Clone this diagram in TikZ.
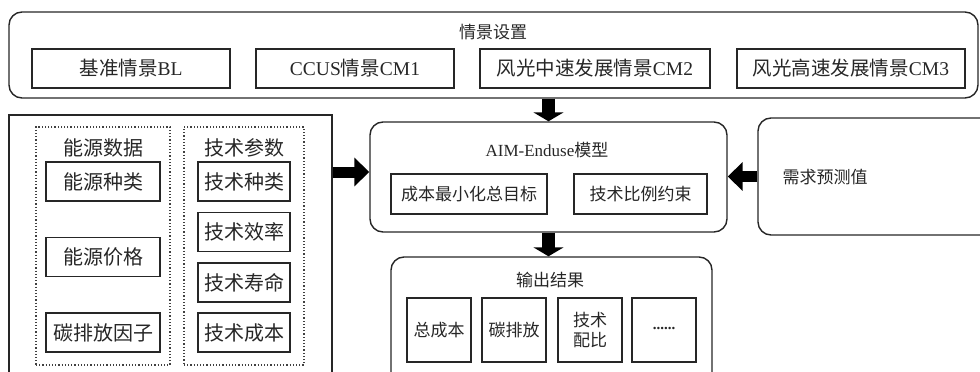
\documentclass[tikz,border=0pt]{standalone}
\usepackage{fontspec}
\setmainfont{Liberation Serif}
\newfontfamily\cjkf{Noto Sans CJK SC}
\newcommand{\zhx}[1]{{\cjkf #1}}
\usetikzlibrary{arrows.meta}
\begin{document}
\begin{tikzpicture}[x=1pt,y=-1pt,
  bx/.style={draw=black!85, line width=1.4pt, inner sep=0pt, text=black!85, align=center},
  rbox/.style={bx, rounded corners=13pt},
  dbox/.style={draw=black!75, dotted, line width=1.2pt, inner sep=0pt},
  lbl/.style={inner sep=0pt, text=black!85, align=center},
  fA/.style={font=\fontsize{19.5}{22}\selectfont},
  fB/.style={font=\fontsize{20}{22}\selectfont},
  fC/.style={font=\fontsize{17}{20}\selectfont},
  arrT/.style={line width=13pt, black, -{Triangle[width=30pt,length=9pt]}},
  arrL/.style={line width=11pt, black, -{Triangle[width=28pt,length=15pt]}}]
\useasboundingbox (0,0) rectangle (980,372);

% top scenario box
\node[rbox, minimum width=969pt, minimum height=86pt] (top) at (493.5,55) {};
\node[lbl, fC] (topt) at (493,32) {\zhx{情景设置}};
\node[bx, fA, minimum width=198pt, minimum height=39pt] (bl) at (131,68.5) {\zhx{基准情景}BL};
\node[bx, fA, minimum width=198pt, minimum height=39pt] (cm1) at (355,68.5) {CCUS\zhx{情景}CM1};
\node[bx, fA, minimum width=230pt, minimum height=39pt] (cm2) at (595,68.5) {\zhx{风光中速发展情景}CM2};
\node[bx, fA, minimum width=228pt, minimum height=39pt] (cm3) at (851,68.5) {\zhx{风光高速发展情景}CM3};

% left data box
\node[bx, minimum width=323pt, minimum height=320pt] (leftbox) at (170.5,275) {};
\node[dbox, minimum width=134pt, minimum height=238pt] (d1) at (103,246) {};
\node[dbox, minimum width=120pt, minimum height=238pt] (d2) at (244,246) {};
\node[lbl, fB] (d1t) at (103,148) {\zhx{能源数据}};
\node[lbl, fB] (d2t) at (244,148) {\zhx{技术参数}};
\node[bx, fB, minimum width=114pt, minimum height=39pt] (e1) at (103,181.5) {\zhx{能源种类}};
\node[bx, fB, minimum width=114pt, minimum height=39pt] (e2) at (103,257) {\zhx{能源价格}};
\node[bx, fB, minimum width=114pt, minimum height=39pt] (e3) at (103,332.5) {\zhx{碳排放因子}};
\node[bx, fB, minimum width=92pt, minimum height=39pt] (k1) at (244,181.5) {\zhx{技术种类}};
\node[bx, fB, minimum width=92pt, minimum height=39pt] (k2) at (244,232) {\zhx{技术效率}};
\node[bx, fB, minimum width=92pt, minimum height=39pt] (k3) at (244,282.5) {\zhx{技术寿命}};
\node[bx, fB, minimum width=92pt, minimum height=39pt] (k4) at (244,332.5) {\zhx{技术成本}};

% AIM model
\node[rbox, minimum width=357pt, minimum height=110pt] (aim) at (548.5,177) {};
\node[lbl, fC] (aimt) at (547,150) {AIM-Enduse\zhx{模型}};
\node[bx, fC, minimum width=156pt, minimum height=40pt] (c1) at (469,194) {\zhx{成本最小化总目标}};
\node[bx, fC, minimum width=133pt, minimum height=40pt] (c2) at (640.5,194) {\zhx{技术比例约束}};

% demand
\node[rbox, minimum width=260pt, minimum height=117pt] (need) at (888,176.5) {};
\node[lbl, fC] (needt) at (825,177) {\zhx{需求预测值}};

% output
\node[rbox, minimum width=321pt, minimum height=150pt] (out) at (551.5,332) {};
\node[lbl, fC] (outt) at (550,280) {\zhx{输出结果}};
\node[bx, fC, minimum width=64pt, minimum height=64pt] (o1) at (439,330) {\zhx{总成本}};
\node[bx, fC, minimum width=64pt, minimum height=64pt] (o2) at (514,330) {\zhx{碳排放}};
\node[bx, fC, minimum width=64pt, minimum height=64pt] (o3) at (590,330) {\zhx{技术}\\\zhx{配比}};
\node[bx, minimum width=64pt, minimum height=64pt, font=\fontsize{15}{17}\selectfont\bfseries] (o4) at (664,330) {\raisebox{3pt}{......}};

% arrows
\draw[arrT] (aim.north |- top.south) -- (aim.north);
\draw[arrT] (aim.south) -- (aim.south |- out.north);
\draw[arrL] ([yshift=5pt]aim.west -| leftbox.east) -- ([yshift=5pt]aim.west);
\draw[arrL] (need.west) -- (need.west -| aim.east);
\end{tikzpicture}
\end{document}
